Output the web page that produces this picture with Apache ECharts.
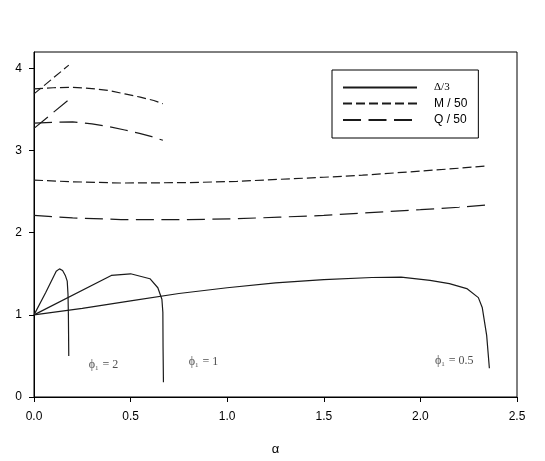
<!DOCTYPE html>
<html>
<head>
<meta charset="utf-8">
<script src="https://cdn.jsdelivr.net/npm/echarts@6/dist/echarts.min.js"></script>
<style>
  html, body { margin: 0; padding: 0; background: #fff; }
  #main { width: 545px; height: 461px; }
</style>
</head>
<body>
<div id="main"></div>
<script>
// alpha / value pairs, one branch per phi1
var deltaPhi2 = [[0, 1], [0.06, 1.27], [0.115, 1.53], [0.132, 1.56], [0.148, 1.54], [0.162, 1.48], [0.172, 1.41], [0.176, 1.25], [0.178, 1.0], [0.18, 0.5]];
var deltaPhi1 = [[0, 1], [0.4, 1.48], [0.5, 1.5], [0.6, 1.44], [0.641, 1.33], [0.662, 1.19], [0.667, 1.03], [0.668, 0.6], [0.67, 0.18]];
var deltaPhi05 = [[0, 1], [0.25, 1.08], [0.5, 1.17], [0.75, 1.26], [1.0, 1.33], [1.25, 1.39], [1.5, 1.43], [1.75, 1.455], [1.9, 1.46], [2.05, 1.42], [2.15, 1.38], [2.24, 1.32], [2.3, 1.21], [2.32, 1.09], [2.343, 0.75], [2.357, 0.35]];

var mPhi2 = [[0, 3.69], [0.18, 4.04]];
var mPhi1 = [[0, 3.75], [0.1, 3.765], [0.2, 3.77], [0.3, 3.755], [0.39, 3.73], [0.47, 3.69], [0.55, 3.65], [0.62, 3.61], [0.667, 3.57]];
var mPhi05 = [[0, 2.64], [0.2, 2.62], [0.45, 2.605], [0.8, 2.61], [1.05, 2.625], [1.27, 2.65], [1.5, 2.675], [1.7, 2.7], [2.0, 2.75], [2.2, 2.785], [2.35, 2.815]];

var qPhi2 = [[0, 3.27], [0.18, 3.62]];
var qPhi1 = [[0, 3.335], [0.1, 3.345], [0.2, 3.35], [0.3, 3.325], [0.39, 3.29], [0.47, 3.25], [0.546, 3.21], [0.61, 3.17], [0.667, 3.125]];
var qPhi05 = [[0, 2.21], [0.2, 2.18], [0.45, 2.16], [0.8, 2.16], [1.05, 2.17], [1.27, 2.19], [1.5, 2.21], [1.7, 2.24], [2.0, 2.28], [2.2, 2.31], [2.356, 2.34]];

var phiLabels = [[0.36, 0.39, '2'], [0.877, 0.43, '1'], [2.175, 0.44, '0.5']];
var xTicks = [0, 0.5, 1, 1.5, 2, 2.5];
var yTicks = [0, 1, 2, 3, 4];

var chart = echarts.init(document.getElementById('main'));

var ink = '#1a1a1a';
function curve(name, data, dash) {
  return {
    name: name,
    type: 'line',
    data: data,
    symbol: 'none',
    smooth: false,
    lineStyle: { color: ink, width: 1.2, type: dash },
    itemStyle: { color: ink },
    z: 3
  };
}
var mDash = [9, 4];
var qDash = [18, 7.5];

var option = {
  animation: false,
  backgroundColor: '#fff',
  grid: {
    left: 34, right: 28, top: 52, bottom: 63,
    show: true, borderColor: '#000', borderWidth: 1
  },
  legend: {
    data: ['Δ/3', 'M / 50', 'Q / 50'],
    orient: 'vertical',
    left: 332, top: 70,
    padding: [12, 11, 12, 10],
    itemWidth: 74, itemHeight: 12, itemGap: 4.5,
    borderColor: '#000', borderWidth: 1,
    selectedMode: false,
    itemStyle: { color: 'transparent', borderWidth: 0, opacity: 0 },
    formatter: function (name) {
      return name === 'Δ/3' ? '{d|Δ/3}' : name;
    },
    textStyle: {
      color: '#000', fontFamily: 'Liberation Sans', fontSize: 12,
      padding: [0, 0, 0, 12],
      rich: { d: { fontFamily: 'Liberation Serif', fontSize: 11, color: '#000' } }
    }
  },
  xAxis: {
    type: 'value', min: 0, max: 2.5, interval: 0.5,
    name: 'α', nameLocation: 'middle', nameGap: 46,
    nameTextStyle: { color: '#000', fontFamily: 'Liberation Sans', fontSize: 13 },
    axisLine: { show: true, onZero: false, lineStyle: { color: '#000', width: 1 } },
    axisTick: { show: true, length: 5, customValues: xTicks, lineStyle: { color: '#000' } },
    axisLabel: {
      customValues: xTicks, margin: 14, color: '#000',
      fontFamily: 'Liberation Sans', fontSize: 12,
      formatter: function (v) { return v.toFixed(1); }
    },
    splitLine: { show: false }
  },
  yAxis: {
    type: 'value', min: 0, max: 4.2,
    axisLine: { show: true, onZero: false, lineStyle: { color: '#000', width: 1 } },
    axisTick: { show: true, length: 5, customValues: yTicks, lineStyle: { color: '#000' } },
    axisLabel: {
      customValues: yTicks, margin: 12, color: '#000',
      fontFamily: 'Liberation Sans', fontSize: 12
    },
    splitLine: { show: false }
  },
  series: [
    curve('Δ/3', deltaPhi2, 'solid'),
    curve('Δ/3', deltaPhi1, 'solid'),
    curve('Δ/3', deltaPhi05, 'solid'),
    curve('M / 50', mPhi2, mDash),
    curve('M / 50', mPhi1, mDash),
    curve('M / 50', mPhi05, mDash),
    curve('Q / 50', qPhi2, qDash),
    curve('Q / 50', qPhi1, qDash),
    curve('Q / 50', qPhi05, qDash),
    {
      name: 'labels',
      type: 'scatter',
      symbolSize: 1,
      itemStyle: { color: 'transparent' },
      silent: true,
      data: phiLabels.map(function (p) { return { value: [p[0], p[1]], txt: p[2] }; }),
      label: {
        show: true, position: 'inside',
        formatter: function (p) { return '{p|ϕ}{s|1}{t| = ' + p.data.txt + '}'; },
        rich: {
          p: { fontFamily: 'Liberation Serif', fontSize: 12, color: '#222' },
          s: { fontFamily: 'Liberation Serif', fontSize: 7, color: '#222', padding: [6, 1, 0, 0] },
          t: { fontFamily: 'Liberation Serif', fontSize: 12, color: '#222' }
        }
      }
    }
  ]
};
chart.setOption(option);
</script>
</body>
</html>
